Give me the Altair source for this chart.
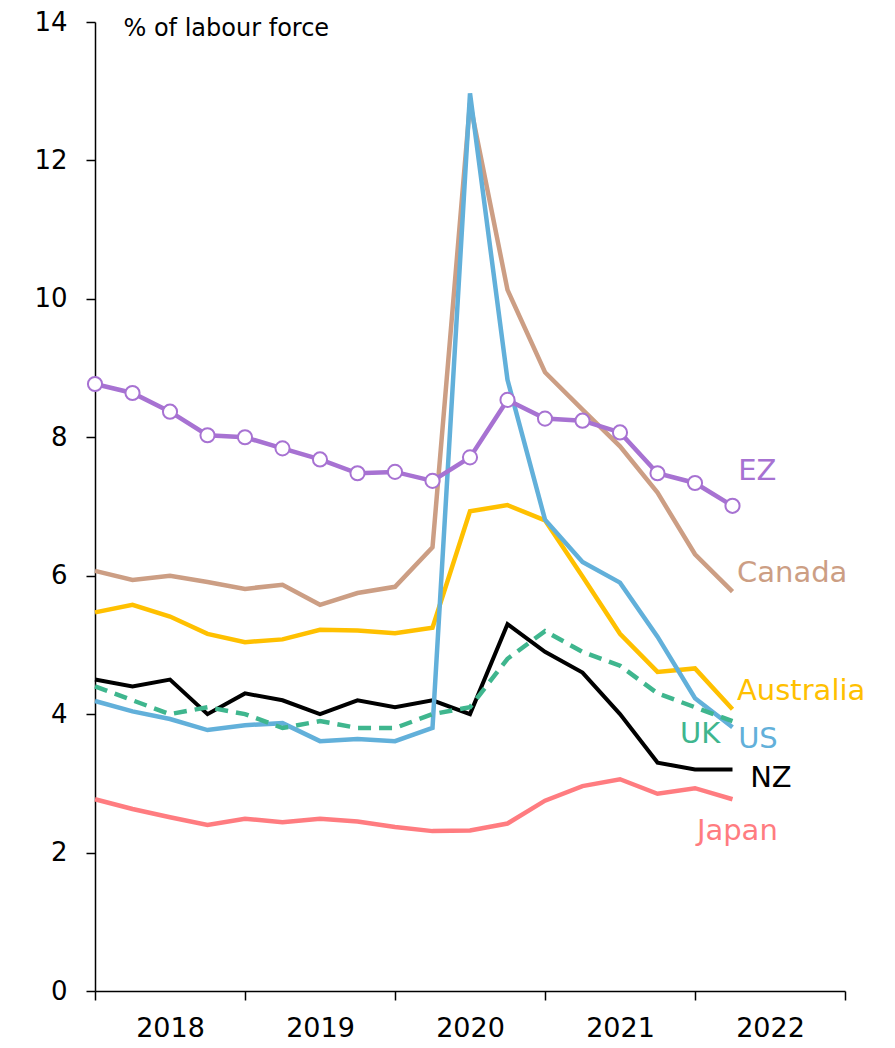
import altair as alt
import pandas as pd

# Quarterly, 2018 Q1 .. 2022 Q2 (index 0..17)
quarters = list(range(18))
ez = [8.77, 8.64, 8.37, 8.03, 8.00, 7.84, 7.68, 7.48, 7.50, 7.37, 7.71, 8.54, 8.27, 8.24, 8.07, 7.48, 7.34, 7.01]
canada = [6.07, 5.94, 6.00, 5.91, 5.81, 5.87, 5.58, 5.75, 5.84, 6.41, 12.83, 10.13, 8.94, 8.40, 7.87, 7.20, 6.31, 5.77]
us = [4.19, 4.04, 3.93, 3.77, 3.84, 3.87, 3.61, 3.64, 3.61, 3.80, 12.97, 8.83, 6.81, 6.20, 5.90, 5.12, 4.23, 3.81]
australia = [5.47, 5.58, 5.41, 5.16, 5.04, 5.08, 5.22, 5.21, 5.17, 5.25, 6.93, 7.02, 6.80, 5.99, 5.16, 4.61, 4.66, 4.07]
nz = [4.5, 4.4, 4.5, 4.0, 4.3, 4.2, 4.0, 4.2, 4.1, 4.2, 4.0, 5.3, 4.9, 4.6, 4.0, 3.3, 3.2, 3.2]
uk = [4.4, 4.2, 4.0, 4.1, 4.0, 3.8, 3.9, 3.8, 3.8, 4.0, 4.1, 4.8, 5.2, 4.9, 4.7, 4.3, 4.1, 3.9]
japan = [2.77, 2.63, 2.51, 2.40, 2.49, 2.44, 2.49, 2.45, 2.37, 2.31, 2.32, 2.42, 2.75, 2.96, 3.06, 2.85, 2.93, 2.77]

years = ["2018", "2019", "2020", "2021", "2022"]

label_names = ["EZ", "Canada", "Australia", "UK", "US", "NZ", "Japan"]
label_x = [17.15, 17.12, 17.12, 15.6, 17.15, 17.47, 16.05]
label_y = [7.51, 6.04, 4.34, 3.71, 3.64, 3.08, 2.31]

colors = {
    "EZ": "#a772d2",
    "Canada": "#cc9e84",
    "US": "#62b0da",
    "Australia": "#ffc000",
    "NZ": "#000000",
    "UK": "#3fb68e",
    "Japan": "#ff7c80",
}

series = {
    "EZ": ez, "Canada": canada, "US": us, "Australia": australia,
    "NZ": nz, "UK": uk, "Japan": japan,
}

FONT = "DejaVu Sans"

year_list = "[" + ",".join("'" + y + "'" for y in years) + "]"
year_expr = "datum.value % 4 == 2 ? " + year_list + "[floor(datum.value / 4)] : ''"

x_enc = alt.X(
    "q:Q",
    scale=alt.Scale(domain=[0, 20], nice=False, zero=False),
    axis=alt.Axis(
        values=list(range(0, 21, 2)),
        labelExpr=year_expr,
        tickOpacity={"condition": {"test": "datum.value % 4 == 0", "value": 1}, "value": 0},
        grid=False,
        title=None,
        domainColor="black",
        domainWidth=1.5,
        tickColor="black",
        tickWidth=1.5,
        tickSize=9,
        labelFontSize=27,
        labelFont=FONT,
        labelColor="black",
        labelPadding=15,
        labelFlush=False,
    ),
)

y_enc = alt.Y(
    "v:Q",
    scale=alt.Scale(domain=[0, 14], nice=False),
    axis=alt.Axis(
        values=list(range(0, 15, 2)),
        grid=False,
        title="% of labour force",
        titleAngle=0,
        titleX=28,
        titleY=6,
        titleAlign="left",
        titleBaseline="middle",
        titleFont=FONT,
        titleFontSize=24,
        titleFontWeight="normal",
        titleColor="black",
        domainColor="black",
        domainWidth=1.5,
        tickColor="black",
        tickWidth=1.5,
        tickSize=9,
        labelFontSize=26,
        labelFont=FONT,
        labelColor="black",
        labelPadding=19,
    ),
)

order = ["Japan", "NZ", "Canada", "Australia", "US", "UK", "EZ"]
layers = []
for name in order:
    df = pd.DataFrame({"q": quarters, "v": series[name]})
    if name == "UK":
        m = alt.Chart(df).mark_line(color=colors[name], strokeWidth=4.5, strokeDash=[13, 8])
    elif name == "NZ":
        m = alt.Chart(df).mark_line(color=colors[name], strokeWidth=4)
    elif name == "EZ":
        m = alt.Chart(df).mark_line(
            color=colors[name], strokeWidth=4.5,
            point=alt.OverlayMarkDef(filled=True, fill="white", stroke=colors[name],
                                     strokeWidth=2, size=200, opacity=1),
        )
    else:
        m = alt.Chart(df).mark_line(color=colors[name], strokeWidth=4.5)
    layers.append(m.encode(x=x_enc, y=y_enc))

lab_df = pd.DataFrame({"q": label_x, "v": label_y, "name": label_names})
labels = alt.Chart(lab_df).mark_text(
    align="left", baseline="middle", font=FONT, fontSize=29
).encode(
    x=x_enc, y=y_enc, text="name:N",
    color=alt.Color("name:N", scale=alt.Scale(domain=list(colors.keys()),
                                               range=list(colors.values())), legend=None),
)
layers.append(labels)

chart = alt.layer(*layers).properties(
    width=750,
    height=969,
    background="white",
    autosize=alt.AutoSizeParams(type="none"),
    padding={"left": 87, "top": 14, "right": 42, "bottom": 54},
).configure_view(stroke=None, strokeWidth=0)

chart.save("out.html", embed_options={"renderer": "svg", "actions": False})
